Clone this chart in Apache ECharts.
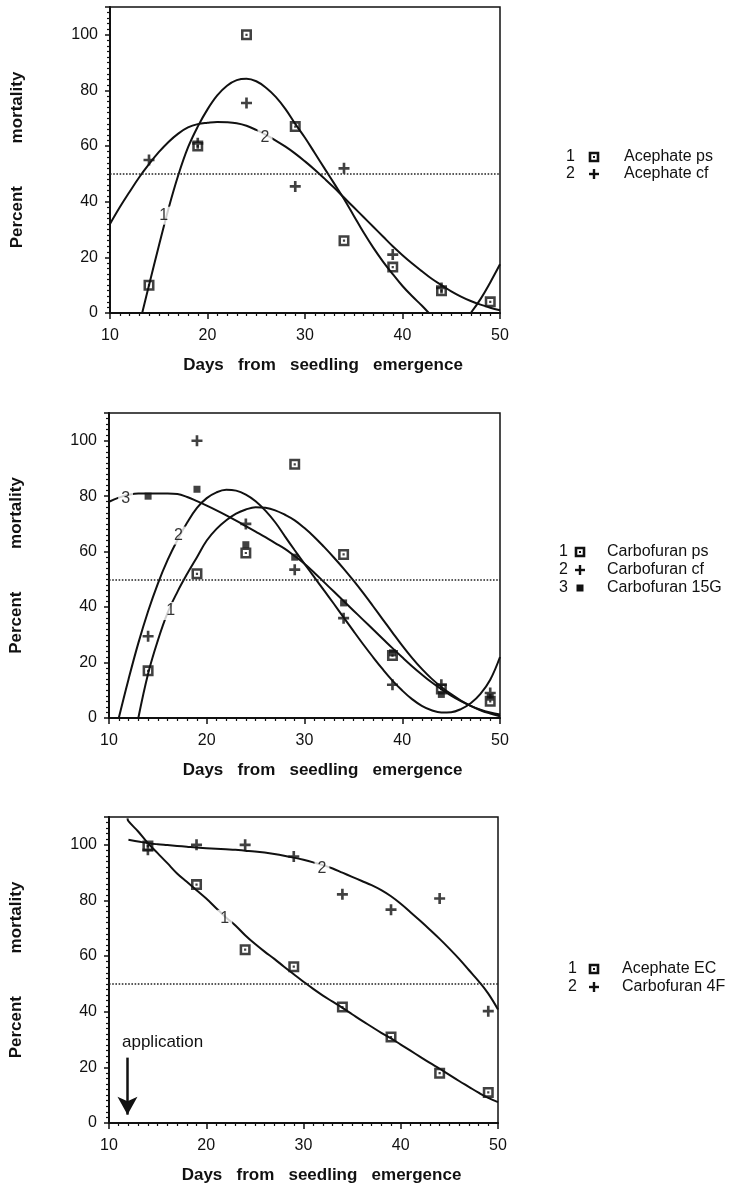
<!DOCTYPE html>
<html><head><meta charset="utf-8">
<script src="https://cdn.jsdelivr.net/npm/echarts@6/dist/echarts.min.js"></script>
<style>html,body{margin:0;padding:0;background:#fff}#c{width:739px;height:1185px}</style>
</head><body><div id="c"></div>
<script>
// ---------- data ----------
const days = [14, 19, 24, 29, 34, 39, 44, 49];
const xTicks = [10, 20, 30, 40, 50];
const yTicks = [0, 20, 40, 60, 80, 100];

// Panel 1 observations
const acephatePs = [10, 60, 100, 67, 26, 16.5, 8, 4];
const acephateCf = [55, 61, 75.5, 45.5, 52, 21, 9, null];
// Panel 1 fitted curves
const fitA1Days = [13.3,14,15,16,17,18,19,20,21,22,23,24,25,26,27,28,29,30,31,32,33,34,35,36,37,38,39,40,41,42,42.7];
const fitA1     = [0,10,24,37.5,49.5,59.5,67,73.2,78.2,81.7,83.7,84.2,83.3,81,77.7,73.3,68,63,57.5,52,46.5,41,35,29,23.5,18.5,14,9.7,6,2.6,0];
const fitA1TailDays = [47,48,49,50];
const fitA1Tail     = [0,5,11,17.5];
const fitA2Days = [10,11,12,13,14,15,16,17,18,19,20,21,22,23,24,25,26,27,28,29,30,31,32,33,34,35,36,37,38,39,40,41,42,43,44,45,46,47,48,49,50];
const fitA2     = [32,38,43.5,48.8,53.5,57.8,61.5,64.5,66.7,67.9,68.4,68.7,68.6,68.2,67.3,65.8,64,62,59.8,57.3,54.5,51.5,48.3,45,41.5,38,34.5,31,27.5,24,20.8,17.8,15,12.3,10,7.8,5.9,4.3,3,1.9,1];

// Panel 2 observations
const carbofuranPs  = [17, 52, 59.5, 91.5, 59, 22.5, 10.5, 6];
const carbofuranCf  = [29.5, 100, 70, 53.5, 36, 12, 12, 9];
const carbofuran15G = [80, 82.5, 62.5, 58, 41.5, 23.5, 8.5, 7.5];
// Panel 2 fitted curves
const fitB1Days = [13,14,15,16,17,18,19,20,21,22,23,24,25,26,27,28,29,30,31,32,33,34,35,36,37,38,39,40,41,42,43,44,45,46,47,48,49,50];
const fitB1     = [0,16,28,38,45.5,52,58,64,68.2,71.3,73.7,75.2,76,75.8,74.9,73.3,71.3,68.5,65.3,61.7,57.9,53.9,49.6,45.1,40.4,35.6,30.8,26.1,21.7,17.7,14.2,11.2,8.6,6.3,4.4,2.8,1.6,0.6];
const fitB2Days = [11,12,13,14,15,16,17,18,19,20,21,22,23,24,25,26,27,28,29,30,31,32,33,34,35,36,37,38,39,40,41,42,43,44,45,46,47,48,49,50];
const fitB2     = [0,14,27,38.5,48.5,57,64.2,70.5,75.8,79.3,81.4,82.3,82,80.6,78.2,74.8,70.6,65.5,60.5,55.6,50.8,46,41.2,36.3,31.4,26.6,22,17.6,13.5,9.9,6.8,4.4,2.8,2,2.1,3.2,5.3,8.7,13.8,22];
const fitB3Days = [10,11,12,13,14,15,16,17,18,19,20,21,22,23,24,25,26,27,28,29,30,31,32,33,34,35,36,37,38,39,40,41,42,43,44,45,46,47,48,49,50];
const fitB3     = [78,79.5,80.5,81,81,81,81,80.8,79.7,78.2,76.6,74.9,73.1,71.2,69.2,67.2,65.2,63.1,61,58.4,55.6,52.4,49,45.6,42.2,38.8,35.4,32,28.6,25.2,21.9,18.7,15.7,12.9,10.4,8.1,6.1,4.4,3,2,1.3];

// Panel 3 observations
const acephateEC    = [99.6, 85.7, 62.3, 56.2, 41.7, 30.9, 17.9, 11];
const carbofuran4F  = [98.2, 100, 100, 95.8, 82.2, 76.7, 80.7, 40.2];
// Panel 3 fitted curves
const fitC1Days = [11.9,12,13,14,15,16,17,18,19,20,21,22,23,24,25,26,27,28,29,30,31,32,33,34,35,36,37,38,39,40,41,42,43,44,45,46,47,48,49,50];
const fitC1     = [109.5,108.5,104.8,100.6,97,93.4,89.7,86.7,83.7,80.7,77.3,74,71,67.5,64.4,61.6,59,56.2,53.5,50.8,48.2,45.8,43.6,41.4,39.1,36.8,34.6,32.4,30.4,28.2,26,23.8,21.6,19.5,17.3,15.1,13,10.9,9,7.5];
const fitC2Days = [12,13,14,15,16,17,18,19,20,21,22,23,24,25,26,27,28,29,30,31,32,33,34,35,36,37,38,39,40,41,42,43,44,45,46,47,48,49,50];
const fitC2     = [101.8,101.2,100.6,100.2,99.9,99.6,99.3,99,98.8,98.6,98.4,98.2,97.9,97.6,97.2,96.7,96.1,95.4,94.6,93.7,92.7,91.5,90,88.5,87,85.5,83.7,81.5,78.8,75.8,72.7,69.5,66.2,62.7,59,55,51,46.5,40.8];

// Curve number labels: [day, percent, text]
const curveLabelsA = [[15.5, 35, '1'], [25.9, 63, '2']];
const curveLabelsB = [[16.3, 38.6, '1'], [17.1, 65.8, '2'], [11.7, 79, '3']];
const curveLabelsC = [[21.9, 73.4, '1'], [31.9, 91.5, '2']];
const referenceLevel = 50;
const applicationArrow = [[11.9, 23.5], [11.9, 3]];

// ---------- chart ----------
const FONT = '"Liberation Sans", Arial, Helvetica, sans-serif';
const INK = '#111';
const SQ = 'path://M0,0H10V10H0Z M2.3,2.3V7.7H7.7V2.3Z M4,4H6V6H4Z';
const PLUS = 'path://M3.8,0H6.2V3.8H10V6.2H6.2V10H3.8V6.2H0V3.8H3.8Z';
const FILL = 'rect';

const pairs = (xs, ys) => xs.map((x, i) => [x, ys[i]]);

function xAxis(i) {
  return {
    gridIndex: i, type: 'value', min: xTicks[0], max: xTicks[xTicks.length - 1], interval: 10,
    axisLine: { show: true, onZero: false, lineStyle: { color: INK, width: 2 } },
    axisTick: { show: true, length: 6, lineStyle: { color: INK, width: 1.5 } },
    minorTick: { show: true, splitNumber: 10, length: 3, lineStyle: { color: INK, width: 1.2 } },
    splitLine: { show: false }, minorSplitLine: { show: false },
    axisLabel: { fontSize: 16, color: INK, margin: 15, fontFamily: FONT },
    name: 'Days   from   seedling   emergence', nameLocation: 'middle', nameGap: 44,
    nameTextStyle: { fontSize: 17, fontWeight: 'bold', color: INK, fontFamily: FONT, padding: [0, 0, 0, 36] }
  };
}
function yAxis(i) {
  return {
    gridIndex: i, type: 'value', min: 0, max: 110, interval: 20,
    axisLine: { show: true, onZero: false, lineStyle: { color: INK, width: 2 } },
    axisTick: { show: true, length: 5, lineStyle: { color: INK, width: 1.5 } },
    minorTick: { show: true, splitNumber: 10, length: 3, lineStyle: { color: INK, width: 1.2 } },
    splitLine: { show: false }, minorSplitLine: { show: false },
    axisLabel: { fontSize: 16, color: INK, margin: 12, fontFamily: FONT,
      formatter: v => (yTicks.indexOf(v) >= 0 ? String(v) : '') },
    name: 'Percent         mortality', nameLocation: 'middle', nameGap: 84, nameRotate: 90,
    nameTextStyle: { fontSize: 17, fontWeight: 'bold', color: INK, fontFamily: FONT }
  };
}
function scatter(name, i, ys, symbol, size) {
  return {
    name, type: 'scatter', xAxisIndex: i, yAxisIndex: i, symbol, symbolSize: size,
    itemStyle: { color: INK }, z: 4,
    data: pairs(days, ys).filter(p => p[1] !== null)
  };
}
function curve(i, xs, ys, extra) {
  return Object.assign({
    type: 'line', xAxisIndex: i, yAxisIndex: i, showSymbol: false, symbol: 'none',
    smooth: 0.4, clip: true, lineStyle: { color: INK, width: 2 }, z: 3,
    data: pairs(xs, ys)
  }, extra || {});
}
function refLine() {
  return { silent: true, symbol: 'none', label: { show: false },
    lineStyle: { type: 'dotted', color: '#222', width: 1.6 },
    data: [{ yAxis: referenceLevel }] };
}
function labels(i, list) {
  return {
    type: 'scatter', xAxisIndex: i, yAxisIndex: i, symbol: 'circle', symbolSize: 1,
    itemStyle: { color: '#fff' }, z: 10, silent: true,
    label: { show: true, position: 'inside', formatter: p => p.data.name,
      fontSize: 16, color: '#000', textBorderWidth: 0, fontFamily: FONT,
      backgroundColor: '#fff', padding: [1, 3] },
    data: list.map(l => ({ value: [l[0], l[1]], name: l[2] }))
  };
}

// legend drawn as graphic rows
const TXT = '16px ' + FONT;
function icon(kind, cx, cy) {
  if (kind === 'sq') return { type: 'group', children: [
    { type: 'rect', shape: { x: cx - 4, y: cy - 4, width: 8, height: 8 }, style: { fill: '#fff', stroke: INK, lineWidth: 2.6 } },
    { type: 'rect', shape: { x: cx - 1, y: cy - 1, width: 2, height: 2 }, style: { fill: INK } } ] };
  if (kind === 'plus') return { type: 'group', children: [
    { type: 'rect', shape: { x: cx - 5, y: cy - 1.2, width: 10, height: 2.4 }, style: { fill: INK } },
    { type: 'rect', shape: { x: cx - 1.2, y: cy - 5, width: 2.4, height: 10 }, style: { fill: INK } } ] };
  return { type: 'rect', shape: { x: cx - 3.5, y: cy - 3.5, width: 7, height: 7 }, style: { fill: INK } };
}
function row(num, numX, kind, iconX, name, nameX, y) {
  return [
    { type: 'text', x: numX, y: y, style: { text: num, font: TXT, fill: INK, verticalAlign: 'middle', align: 'left' } },
    icon(kind, iconX, y),
    { type: 'text', x: nameX, y: y, style: { text: name, font: TXT, fill: INK, verticalAlign: 'middle', align: 'left' } }
  ];
}
const graphics = [].concat(
  row('1', 566, 'sq', 594, 'Acephate ps', 624, 157),
  row('2', 566, 'plus', 594, 'Acephate cf', 624, 174),
  row('1', 559, 'sq', 580, 'Carbofuran ps', 607, 552),
  row('2', 559, 'plus', 580, 'Carbofuran cf', 607, 570),
  row('3', 559, 'fill', 580, 'Carbofuran 15G', 607, 588),
  row('1', 568, 'sq', 594, 'Acephate EC', 622, 969),
  row('2', 568, 'plus', 594, 'Carbofuran 4F', 622, 987),
  [{ type: 'text', x: 122, y: 1042, style: { text: 'application', font: '17px ' + FONT, fill: INK, verticalAlign: 'middle', align: 'left' } }]
);

const option = {
  backgroundColor: '#fff',
  animation: false,
  grid: [
    { left: 110, top: 7, width: 390, height: 306, show: true, borderColor: INK, borderWidth: 1.5 },
    { left: 109, top: 413, width: 391, height: 305, show: true, borderColor: INK, borderWidth: 1.5 },
    { left: 108, top: 817, width: 390, height: 306, show: true, borderColor: INK, borderWidth: 1.5 }
  ],
  xAxis: [xAxis(0), xAxis(1), xAxis(2)],
  yAxis: [yAxis(0), yAxis(1), yAxis(2)],
  graphic: { elements: graphics },
  series: [
    // panel 1
    curve(0, fitA1Days, fitA1),
    curve(0, fitA1TailDays, fitA1Tail),
    curve(0, fitA2Days, fitA2, { markLine: refLine() }),
    scatter('Acephate ps', 0, acephatePs, SQ, 11),
    scatter('Acephate cf', 0, acephateCf, PLUS, 11),
    labels(0, curveLabelsA),
    // panel 2
    curve(1, fitB1Days, fitB1),
    curve(1, fitB2Days, fitB2),
    curve(1, fitB3Days, fitB3, { markLine: refLine() }),
    scatter('Carbofuran ps', 1, carbofuranPs, SQ, 11),
    scatter('Carbofuran cf', 1, carbofuranCf, PLUS, 11),
    scatter('Carbofuran 15G', 1, carbofuran15G, FILL, 7),
    labels(1, curveLabelsB),
    // panel 3
    curve(2, fitC1Days, fitC1, { markLine: refLine() }),
    curve(2, fitC2Days, fitC2, { markLine: { silent: true, label: { show: false },
      symbol: ['none', 'arrow'], symbolSize: [15, 18],
      lineStyle: { type: 'solid', color: INK, width: 2.5 },
      data: [[{ coord: applicationArrow[0] }, { coord: applicationArrow[1] }]] } }),
    scatter('Acephate EC', 2, acephateEC, SQ, 11),
    scatter('Carbofuran 4F', 2, carbofuran4F, PLUS, 11),
    labels(2, curveLabelsC)
  ]
};
const chart = echarts.init(document.getElementById('c'), null, { renderer: 'canvas' });
chart.setOption(option);
</script></body></html>
